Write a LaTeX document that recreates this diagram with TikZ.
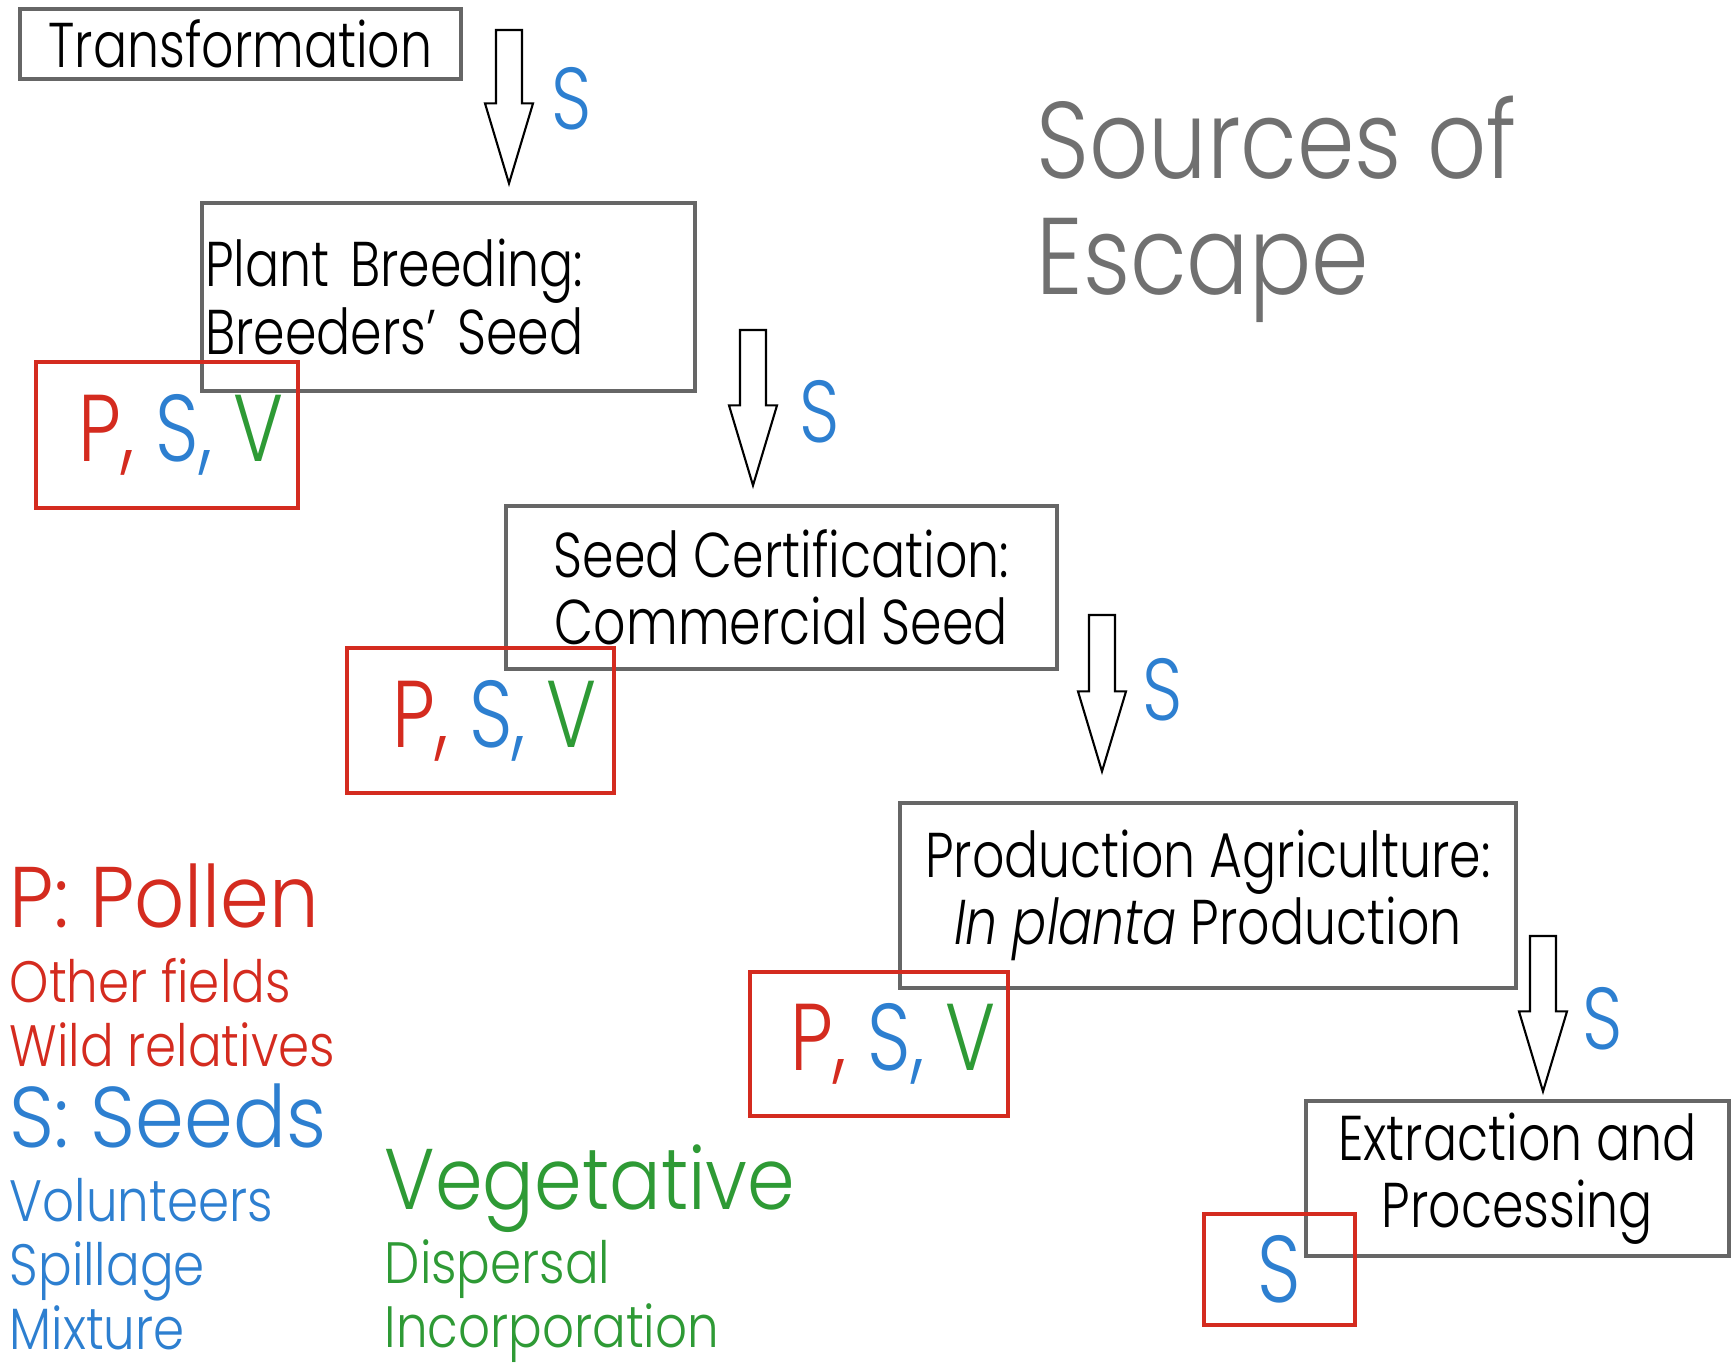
\documentclass[tikz,border=0pt]{standalone}
\usepackage{fontspec}
\setmainfont{Poppins}[FakeStretch=0.8,UprightFont=* Light,ItalicFont=* Light Italic]
\usetikzlibrary{calc,positioning}

\definecolor{escred}{HTML}{D42B1F}
\definecolor{escblue}{HTML}{2D7FD0}
\definecolor{escgreen}{HTML}{2E9A35}
\definecolor{boxgray}{HTML}{666666}
\definecolor{titlegray}{HTML}{707070}

\tikzset{
  stage/.style={draw=boxgray,line width=0.9pt,inner sep=0.03cm,align=center,
    font=\fontsize{18}{19.2}\selectfont},
  risk/.style={draw=escred,line width=1.1pt,inner sep=0pt,
    font=\fontsize{27}{30}\selectfont},
  flow/.style={draw=black,line width=0.6pt,fill=white},
  slabel/.style={text=escblue,font=\fontsize{25}{28}\selectfont},
  legbig/.style={anchor=base west,inner sep=0pt,xscale=1.14,font=\fontsize{24.5}{28}\selectfont},
  legsmall/.style={anchor=base west,inner sep=0pt,xscale=1.07,font=\fontsize{16.6}{20}\selectfont}
}

\newcommand\hollowdown[2]{%
  \draw[flow] let \p1=(#1), \p2=(#2) in
    (\x1-0.13cm,\y1) -- (\x1-0.13cm,\y2+0.8cm) -- (\x1-0.24cm,\y2+0.8cm) -- (\x1,\y2)
    -- (\x1+0.24cm,\y2+0.8cm) -- (\x1+0.13cm,\y2+0.8cm) -- (\x1+0.13cm,\y1) -- cycle;}
\newcommand\PSV{\hspace*{0.28cm}\textcolor{escred}{P,} \textcolor{escblue}{S,} \textcolor{escgreen}{V}}

\begin{document}
\begin{tikzpicture}
\useasboundingbox (0,0) rectangle (17.31,-13.72);

\node[stage,minimum width=4.41cm,minimum height=0.70cm] (trans) at (2.405,-0.44) {Transformation};
\node[stage,text width=4.87cm,align=left,minimum height=1.88cm] (breed) at (4.485,-2.97)
  {Plant Breeding:\\Breeders’ Seed};
\node[stage,minimum width=5.51cm,minimum height=1.63cm] (cert) at (7.815,-5.875)
  {Seed Certification:\\Commercial Seed};
\node[stage,minimum width=6.16cm,minimum height=1.85cm] (prod) at (12.08,-8.955)
  {Production Agriculture:\\\textit{In planta} Production};
\node[stage,minimum width=4.23cm,minimum height=1.55cm] (extr) at (15.175,-11.785)
  {Extraction and\\Processing};

\node[risk,minimum width=2.62cm,minimum height=1.46cm] (risk1) at (1.67,-4.35) {\PSV};
\node[risk,minimum width=2.67cm,minimum height=1.45cm] (risk2) at (4.805,-7.205) {\PSV};
\node[risk,minimum width=2.58cm,minimum height=1.44cm] (risk3) at (8.79,-10.44) {\PSV};
\node[risk,minimum width=1.51cm,minimum height=1.11cm,text=escblue] (risk4) at (12.795,-12.695) {S};

\coordinate (a1) at (5.09,-0.30);
\coordinate (a2) at (7.53,-3.30);
\coordinate (a3) at (11.02,-6.15);
\coordinate (a4) at (15.43,-9.36);
\coordinate (t1) at ($(a1 |- breed.north)+(0,0.18)$);
\coordinate (t2) at ($(a2 |- cert.north)+(0,0.19)$);
\coordinate (t3) at ($(a3 |- prod.north)+(0,0.30)$);
\coordinate (t4) at ($(a4 |- extr.north)+(0,0.08)$);

\hollowdown{a1}{t1}
\hollowdown{a2}{t2}
\hollowdown{a3}{t3}
\hollowdown{a4}{t4}

\node[slabel] (s1) at (5.72,-0.99) {S};
\node[slabel] (s2) at (8.20,-4.12) {S};
\node[slabel] (s3) at (11.63,-6.90) {S};
\node[slabel] (s4) at (16.03,-10.19) {S};

\node[anchor=west,align=left,text=titlegray,inner sep=0pt,xscale=1.06,
  font=\fontsize{31}{33}\selectfont] (title) at (10.36,-2.09) {Sources of\\Escape};

\node[legbig,text=escred] (pollen) at (0.09,-9.28) {P: Pollen};
\node[legsmall,text=escred] (fields) at (0.09,-10.03) {Other fields};
\node[legsmall,text=escred] (wild) at (0.09,-10.67) {Wild relatives};
\node[legbig,text=escblue] (seeds) at (0.09,-11.48) {S: Seeds};
\node[legsmall,text=escblue] (vol) at (0.09,-12.22) {Volunteers};
\node[legsmall,text=escblue] (spill) at (0.09,-12.86) {Spillage};
\node[legsmall,text=escblue] (mix) at (0.09,-13.49) {Mixture};
\node[legbig,text=escgreen,xscale=0.975] (veg) at (3.84,-12.10) {Vegetative};
\node[legsmall,text=escgreen] (disp) at (3.84,-12.84) {Dispersal};
\node[legsmall,text=escgreen] (incorp) at (3.84,-13.47) {Incorporation};

\end{tikzpicture}
\end{document}
